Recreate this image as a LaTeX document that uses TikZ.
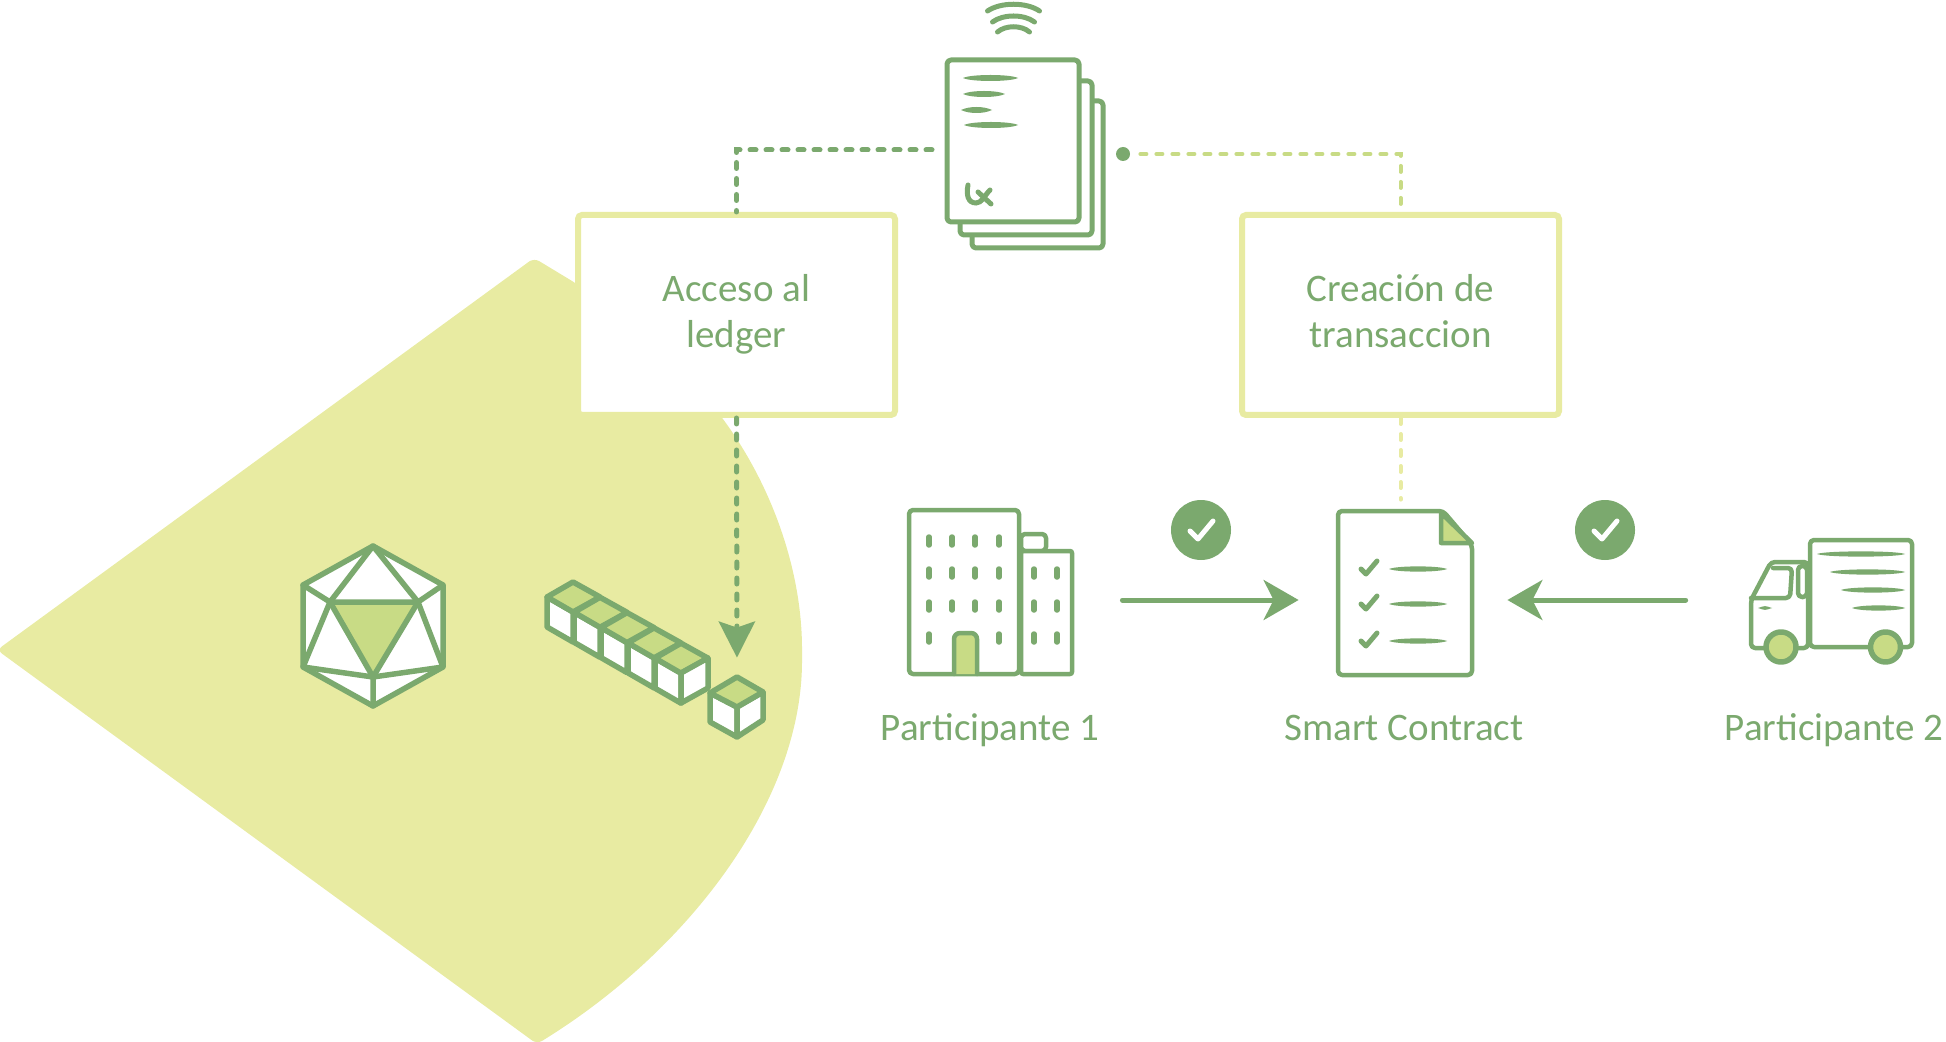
\documentclass[tikz,border=0pt]{standalone}
\usepackage{fontspec}
\setmainfont{Carlito}
\usetikzlibrary{arrows.meta,calc}
\definecolor{leaf}{HTML}{7BA96E}
\definecolor{pale}{HTML}{E8EBA2}
\definecolor{mid}{HTML}{C8DB85}
\newcommand{\lensline}[4]{\fill[leaf] (#1,#3) .. controls (#1+8,#3-#4) and (#2-8,#3-#4) .. (#2,#3) .. controls (#2-8,#3+#4) and (#1+8,#3+#4) .. (#1,#3) -- cycle;}
\tikzset{
  ink/.style={draw=leaf,line width=2.75pt,line join=round,line cap=round},
  thinink/.style={draw=leaf,line width=2.25pt,line cap=round},
  stepbox/.style={rectangle,draw=pale,fill=white,line width=3pt,rounded corners=2pt,minimum width=158.5pt,minimum height=100pt,text=leaf,align=center,font=\fontsize{19.5}{23}\selectfont},
  caption/.style={text=leaf,anchor=base,font=\fontsize{19.5}{23}\selectfont},
  iconbox/.style={rectangle,inner sep=0pt},
  ledgerlink/.style={draw=leaf,line width=2.5pt,line cap=round,dash pattern=on 3pt off 5pt},
  txlink/.style={draw=mid,line width=2pt,line cap=round,dash pattern=on 3pt off 5pt},
  flow/.style={draw=leaf,line width=2.5pt,line cap=round,-{Stealth[length=17.5pt,width=20pt,inset=5pt]}},
  okmark/.style={circle,fill=leaf,minimum size=30pt,inner sep=0pt}
}
\begin{document}
\begin{tikzpicture}[x=0.5pt,y=-0.5pt]
  \useasboundingbox (0,0) rectangle (1946,1042);

  \fill[pale,rounded corners=3pt] (-3,650) -- (534,258) -- (577,284) -- (720,415)
    .. controls (775,490) and (802,575) .. (802,655)
    .. controls (802,800) and (690,950) .. (537,1044) -- cycle;

  \path (736.5,315) node[stepbox](ledger){\strut Acceso al\\ledger\strut}
    (1400.5,315) node[stepbox](creation){\strut Creación de\\transaccion\strut}
    (1123,154) node[circle,fill=leaf,minimum size=7pt,inner sep=0pt](docdot){}
    (932,150) coordinate(docout)
    (737,707) node[iconbox,minimum width=27pt,minimum height=30pt](newblock){}
    (990.5,600) node[iconbox,minimum width=83.5pt,minimum height=40pt](building){}
    (1405,600) node[iconbox,minimum width=69pt,minimum height=91pt](contract){}
    (1833,600) node[iconbox,minimum width=84pt,minimum height=40pt](truck){}
    (1201,530) node[okmark](okleft){}
    (1605,530) node[okmark](okright){}
    (990,740) node[caption](partone){Participante 1}
    (1404,740) node[caption](smart){Smart Contract}
    (1834,740) node[caption](parttwo){Participante 2};

  \draw[ink,line width=2.5pt,fill=white,rounded corners=2pt] (972,101) -- (1103,101) -- (1103,248) -- (972,248) -- cycle;
  \draw[ink,line width=2.5pt,fill=white,rounded corners=2pt] (960,81) -- (1092,81) -- (1092,235) -- (960,235) -- cycle;
  \draw[ink,line width=2.5pt,fill=white,rounded corners=2pt] (947,60) -- (1079,60) -- (1079,222) -- (947,222) -- cycle;
  \lensline{963}{1018}{78}{4}
  \lensline{963}{1005}{94}{4}
  \lensline{961}{992}{110}{4}
  \lensline{964}{1018}{125}{4}
  \draw[thinink,line width=2.5pt] (968,185) .. controls (966,195) and (968,203) .. (976,203) .. controls (982,203) and (984,196) .. (990,190)
    (978,192) -- (991,204);
  \foreach \ya/\w/\h in {11/26/9,22/21/8,32/16/7}
    \draw[thinink,line width=2.5pt] (1013.5-\w,\ya) .. controls (1013.5-\w/2,\ya-\h) and (1013.5+\w/2,\ya-\h) .. (1013.5+\w,\ya);

  \draw[ink,fill=white] (373,546) -- (443,585) -- (443,667) -- (373,706) -- (303,667) -- (303,585) -- cycle;
  \draw[ink,fill=mid] (330,602) -- (418,602) -- (373,677) -- cycle;
  \draw[ink] (373,546) -- (330,602) -- (303,585) (373,546) -- (418,602) -- (443,585)
    (330,602) -- (303,667) -- (373,677) -- (443,667) -- (418,602) (373,677) -- (373,706);

  \foreach \i in {0,...,4}{
    \draw[ink,fill=white] ($(547,597)+\i*(27,15.3)$) -- ($(573,612)+\i*(27,15.3)$) -- ($(573,642)+\i*(27,15.3)$) -- ($(547,627)+\i*(27,15.3)$) -- cycle;
    \draw[ink,fill=mid] ($(547,597)+\i*(27,15.3)$) -- ($(573,582)+\i*(27,15.3)$) -- ($(600,597)+\i*(27,15.3)$) -- ($(573,612)+\i*(27,15.3)$) -- cycle;
  }
  \draw[ink,fill=white] (681,673) -- (708,658) -- (708,688) -- (681,703) -- cycle;
  \draw[ink,fill=white] (710,693) -- (737,707) -- (737,737) -- (710,722) -- cycle;
  \draw[ink,fill=white] (737,707) -- (763,692) -- (763,720) -- (737,737) -- cycle;
  \draw[ink,fill=mid] (710,693) -- (737,677) -- (763,692) -- (737,707) -- cycle;

  \draw[ink,fill=white,line width=2.25pt,rounded corners=2pt] (909,510) -- (1019,510) -- (1019,674) -- (909,674) -- cycle;
  \draw[ink,fill=white,line width=2.25pt,rounded corners=2pt] (1021,534) -- (1046,534) -- (1046,551) -- (1021,551) -- cycle;
  \draw[ink,fill=white,line width=2.25pt,rounded corners=1pt] (1021,551) -- (1072,551) -- (1072,674) -- (1021,674) -- cycle;
  \draw[ink,fill=mid,line width=2.25pt,rounded corners=3pt] (954,674) -- (954,633) -- (977,633) -- (977,674);
  \foreach \xa in {929,952,975,999}
    \foreach \ya in {541,573,606}
      \draw[ink,line width=2.75pt] (\xa,\ya-4) -- (\xa,\ya+4);
  \foreach \xa in {929,999}
    \draw[ink,line width=2.75pt] (\xa,634) -- (\xa,642);
  \foreach \xa in {1034,1057}
    \foreach \ya in {573,606,638}
      \draw[ink,line width=2.75pt] (\xa,\ya-4) -- (\xa,\ya+4);

  \draw[ink,fill=white,line width=2.25pt,rounded corners=2pt] (1338,511) -- (1443,511) -- (1472,545) -- (1472,675) -- (1338,675) -- cycle;
  \draw[ink,fill=mid,line width=2.25pt] (1441,513) -- (1441,543) -- (1472,543) -- cycle;
  \foreach \ya in {569,604,641}{
    \draw[thinink,line width=2.5pt,line join=round] (1361,\ya) -- (1366,\ya+5) -- (1377,\ya-8);
    \lensline{1389}{1447}{\ya}{3.5}
  }

  \draw[ink,fill=white,line width=2.25pt,rounded corners=2pt] (1810,540) -- (1912,540) -- (1912,647) -- (1810,647) -- cycle;
  \draw[ink,fill=white,line width=2.25pt,rounded corners=2pt] (1808,562) -- (1771,562) -- (1751,600) -- (1751,648) -- (1808,648) -- cycle;
  \draw[ink,line width=2.25pt,rounded corners=2pt] (1751,598) -- (1790,598) -- (1792,568) -- (1773,568);
  \draw[ink,line width=2.25pt,rounded corners=2pt] (1798,566) -- (1807,566) -- (1807,597) -- (1798,597) -- cycle;
  \lensline{1758}{1772}{608}{2.5}
  \foreach \xa/\ya in {1817/554,1830/572,1841/590,1852/608}{
    \lensline{\xa}{1905}{\ya}{3.5}
  }
  \foreach \xa in {1781,1885.5}
    \draw[ink,fill=mid] (\xa,647) circle (7.5pt);

  \draw[ledgerlink] (docout) -| (ledger.north);
  \draw[txlink,shorten <=5pt] (docdot.east) -| (creation.north);
  \draw[txlink,draw=pale,shorten >=4.5pt] (creation.south) -- (creation.south |- contract.north);
  \draw[ledgerlink,-{Stealth[length=18pt,width=18pt,inset=3pt]},shorten >=9.5pt] (ledger.south) -- (newblock.north);
  \draw[flow,shorten <=24pt,shorten >=18.5pt] (building.east) -- (contract.west);
  \draw[flow,shorten <=31.5pt,shorten >=16.5pt] (truck.west) -- (contract.east);

  \foreach \nd in {okleft,okright}
    \draw[white,line width=2.5pt,line cap=round,line join=round] ($(\nd)+(-11,1)$) -- ($(\nd)+(-3,9)$) -- ($(\nd)+(12,-9)$);
\end{tikzpicture}
\end{document}
